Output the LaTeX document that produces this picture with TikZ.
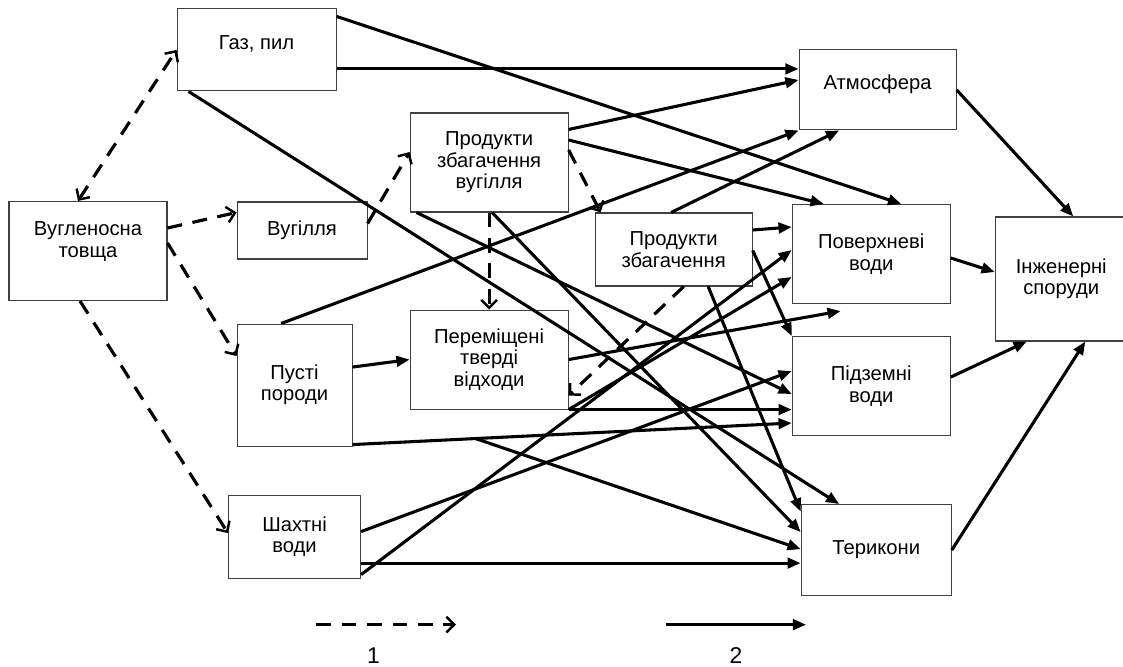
\documentclass[tikz,border=0pt]{standalone}
\usepackage{fontspec}
\setmainfont{Liberation Sans}
\usepackage{tikz}
\usetikzlibrary{positioning, arrows.meta, calc}

\begin{document}
\begin{tikzpicture}[
        box/.style = {draw=black!75, rectangle, line width=0.6pt, align=center, inner sep=2pt, font=\fontsize{11.5}{12.2}\selectfont},
        wide/.style = {box, minimum width=3.16cm, minimum height=1.98cm},
        raised/.style = {text depth=#1},
        arrow/.style = {>={Triangle[length=7.5pt, width=6pt]}, ->, line width=1.75pt},
        dasharrow/.style = {>={Straight Barb[length=4.5pt, width=9pt, line width=1.4pt]}, ->, line width=1.8pt, dash pattern=on 8.5pt off 6pt},
        legend/.style = {font=\fontsize{13}{13}\selectfont}
      ]
      \useasboundingbox (-1.76,5.02) rectangle (20.70,-8.32);

      % ================= ДЖЕРЕЛА =================
      \node[wide, raised=0.46cm] (seam) {Вугленосна\\товща};
      \node[box, minimum width=2.6cm, minimum height=1.14cm, right=1.38cm of seam, yshift=0.41cm] (coal) {Вугілля};
      \node[box, minimum width=2.3cm, minimum height=2.44cm, below=1.28cm of coal, xshift=-0.15cm] (rock) {Пусті\\породи};
      \node[box, minimum width=2.64cm, minimum height=1.66cm, below=0.96cm of rock] (mine) {Шахтні\\води};
      \node[box, raised=0.3cm, minimum width=3.18cm, minimum height=1.64cm, above=2.2cm of coal, xshift=-0.91cm] (gas) {Газ, пил};

      % ================= ПРОДУКТИ =================
      \node[wide, right=0.84cm of coal, yshift=1.36cm] (prodcoal) {Продукти\\збагачення\\вугілля};
      \node[wide, below=1.94cm of prodcoal] (moved) {Переміщені\\тверді\\відходи};
      \node[box, minimum width=3.14cm, minimum height=1.46cm, right=0.52cm of prodcoal, yshift=-1.74cm] (prod) {Продукти\\збагачення};

      % ================= СЕРЕДОВИЩЕ =================
      \node[box, raised=0.3cm, minimum width=3.14cm, minimum height=1.6cm, right=9.24cm of gas, yshift=-0.8cm] (atm) {Атмосфера};
      \node[wide, right=0.78cm of prod, yshift=-0.09cm] (surf) {Поверхневі\\води};
      \node[wide, below=0.64cm of surf] (ground) {Підземні\\води};
      \node[box, minimum width=3cm, minimum height=1.82cm, below=1.36cm of ground, xshift=0.1cm] (heaps) {Терикони};
      \node[box, minimum width=2.64cm, minimum height=2.48cm, right=0.88cm of surf, yshift=-0.5cm] (eng) {Інженерні\\споруди};

      % Пунктирні зв'язки
      \draw[dasharrow, <->] ([xshift=-0.2cm]seam.north) -- (gas.west);
      \draw[dasharrow] ([yshift=0.46cm]seam.east) -- ([yshift=0.36cm]coal.west);
      \draw[dasharrow] ([yshift=0.16cm]seam.east) -- ([yshift=0.58cm]rock.west);
      \draw[dasharrow] ([xshift=-0.16cm]seam.south) -- ([yshift=0.07cm]mine.west);
      \draw[dasharrow] ([yshift=0.14cm]coal.east) -- ([yshift=0.21cm]prodcoal.west);
      \draw[dasharrow] (prodcoal.south) -- (moved.north);
      \draw[dasharrow] ([yshift=0.25cm]prodcoal.east) -- ([xshift=0.12cm]prod.north west);
      \draw[dasharrow] ([xshift=0.2cm]prod.south) -- ([yshift=0.28cm]moved.south east);

      % Газ, пил
      \draw[arrow] ([yshift=-0.38cm]gas.east) -- ([yshift=-0.38cm]gas.east -| atm.west);
      \draw[arrow] ([yshift=-0.16cm]gas.north east) -- ([xshift=0.6cm]surf.north);
      \draw[arrow] ([xshift=0.24cm]gas.south west) -- ([xshift=-0.74cm]heaps.north);

      % Продукти збагачення вугілля
      \draw[arrow] ([yshift=-0.34cm]prodcoal.north east) -- ([yshift=0.2cm]atm.west);
      \draw[arrow] ([yshift=0.45cm]prodcoal.east) -- ([xshift=0.64cm]surf.north west);
      \draw[arrow] ([xshift=0.14cm]prodcoal.south west) -- ([yshift=-0.16cm]ground.west);
      \draw[arrow] ([xshift=0.06cm]prodcoal.south) -- ([yshift=0.36cm]heaps.west);

      % Продукти збагачення
      \draw[arrow] ([xshift=-0.05cm]prod.north) -- ([xshift=-0.77cm]atm.south);
      \draw[arrow] ([yshift=0.39cm]prod.east) -- ([yshift=0.54cm]surf.west);
      \draw[arrow] ([yshift=-0.02cm]prod.east) -- (ground.north west);
      \draw[arrow] ([xshift=0.69cm]prod.south) -- ([yshift=-0.15cm]heaps.north west);

      % Пусті породи
      \draw[arrow] ([xshift=-0.27cm]rock.north) -- (atm.south west);
      \draw[arrow] ([yshift=0.36cm]rock.east) -- (moved.west);
      \draw[arrow] ([yshift=0.04cm]rock.south east) -- coordinate[pos=0.28] (branch) ([yshift=-0.74cm]ground.west);
      \draw[arrow] (branch) -- ([yshift=0.02cm]heaps.west);

      % Переміщені тверді відходи
      \coordinate (loose) at ([xshift=0.98cm, yshift=-0.14cm]surf.south west);
      \draw[arrow] (moved.east) -- (loose);
      \draw[arrow] (moved.south east) -- (moved.south east -| ground.west);
      \draw[arrow] (moved.south east) -- ([yshift=-0.46cm]surf.west);

      % Шахтні води
      \draw[arrow] ([yshift=0.08cm]mine.south east) -- ([yshift=0.08cm]surf.west);
      \draw[arrow] ([yshift=0.1cm]mine.east) -- ([yshift=0.3cm]ground.west);
      \draw[arrow] ([yshift=-0.53cm]mine.east) -- ([yshift=-0.53cm]mine.east -| heaps.west);

      % Інженерні споруди
      \draw[arrow] (atm.east) -- ([xshift=0.24cm]eng.north);
      \draw[arrow] ([yshift=-0.08cm]surf.east) -- ([yshift=0.14cm]eng.west);
      \draw[arrow] ([yshift=0.18cm]ground.east) -- ([xshift=0.64cm]eng.south west);
      \draw[arrow] (heaps.east) -- ([xshift=0.48cm]eng.south);

      % ================= ЛЕГЕНДА =================
      \coordinate (leg-dash-a) at ([xshift=0.43cm, yshift=-0.92cm]mine.south);
      \coordinate (leg-dash-b) at ([xshift=2.8cm]leg-dash-a);
      \coordinate (leg-line-a) at ([xshift=7cm]leg-dash-a);
      \coordinate (leg-line-b) at ([xshift=2.8cm]leg-line-a);
      \draw[dasharrow] (leg-dash-a) -- (leg-dash-b);
      \draw[arrow] (leg-line-a) -- (leg-line-b);
      \node[legend] (num1) at ([xshift=1.15cm, yshift=-0.62cm]leg-dash-a) {1};
      \node[legend] (num2) at ([xshift=1.4cm, yshift=-0.62cm]leg-line-a) {2};

    \end{tikzpicture}
\end{document}
